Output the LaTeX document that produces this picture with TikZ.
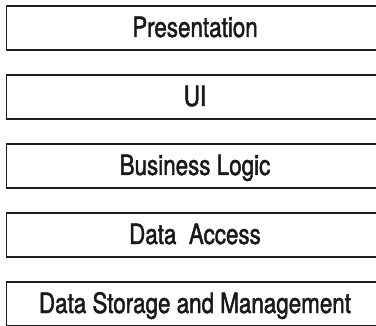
\documentclass[tikz,border=0pt]{standalone}
\usepackage{fontspec}
\setmainfont[FakeStretch=0.8,FakeBold=1.6]{TeX Gyre Heros}
\begin{document}
\begin{tikzpicture}[x=1pt,y=1pt,
  layer/.style={draw=black!88, line width=1.8pt, rectangle, minimum width=377pt,
    minimum height=44pt, inner sep=0pt, text height=18pt, text depth=0pt,
    text=black!90, font=\fontsize{28}{31}\selectfont}]
\useasboundingbox (0,0) rectangle (376,325);
\clip (0,0) rectangle (376,325);
\node[layer] (pres) at (195,297) {Presentation};
\node[layer] (ui) at (195,228) {UI};
\node[layer] (bl) at (195,159) {Business Logic};
\node[layer] (da) at (195,90) {Data\ \ Access};
\node[layer] (ds) at (195,21) {Data Storage and Management};
\end{tikzpicture}
\end{document}
